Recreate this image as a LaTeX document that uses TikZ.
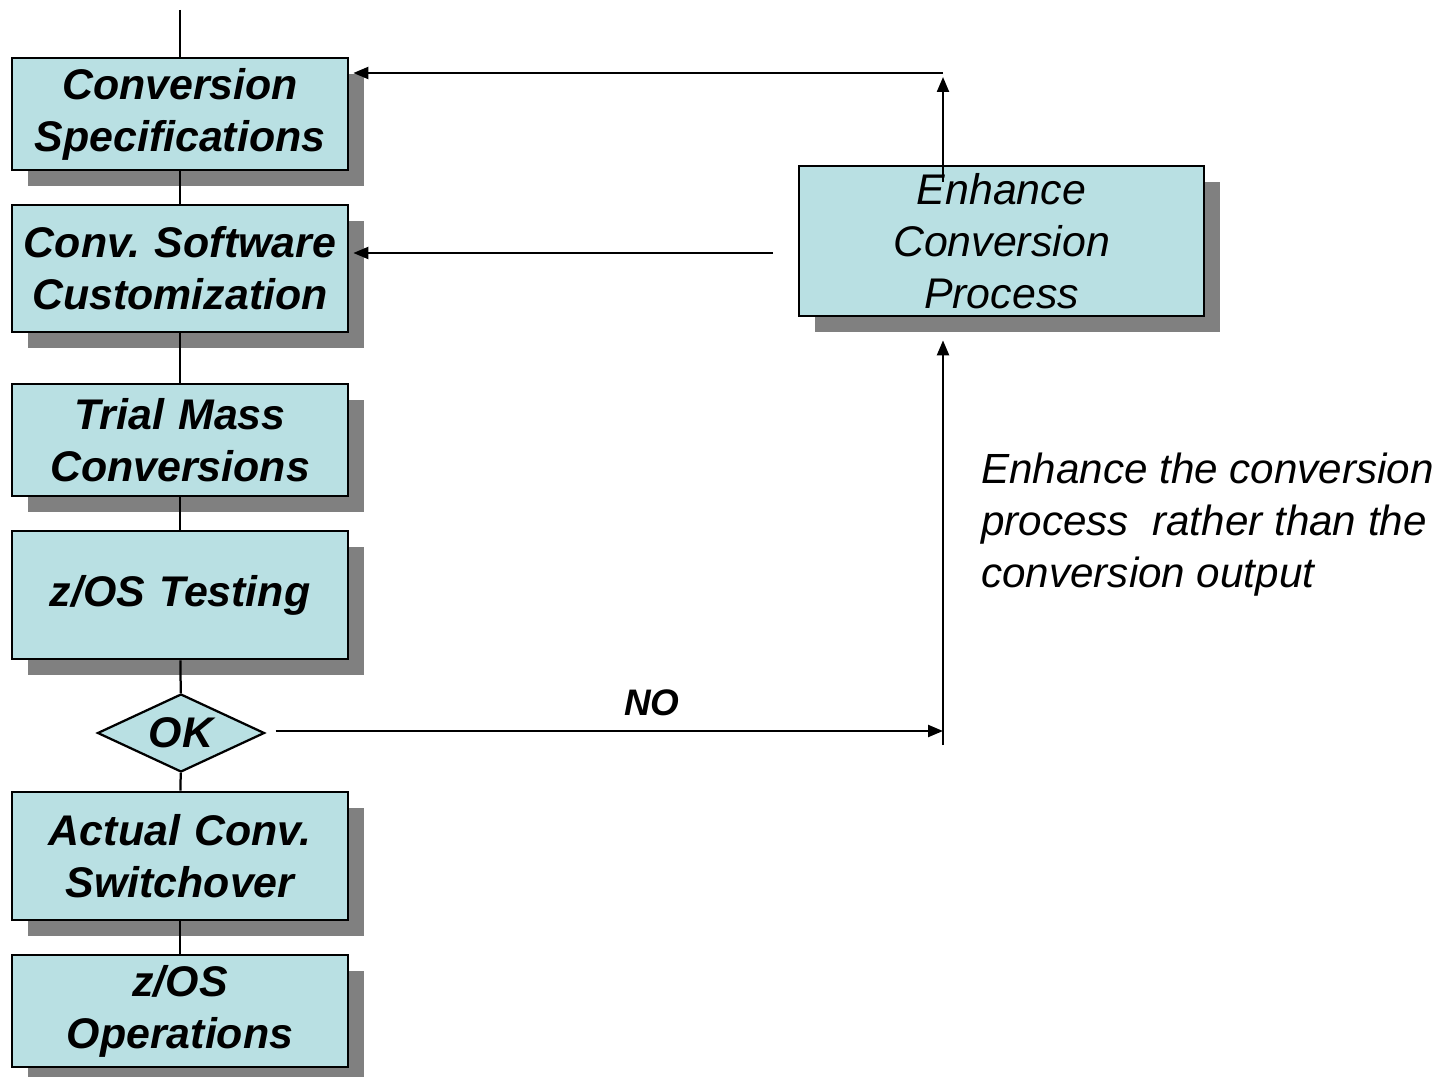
\documentclass[tikz,border=0pt]{standalone}
\usepackage{fontspec}
\setmainfont{Liberation Sans}
\usetikzlibrary{shapes.geometric,arrows.meta,shadows,positioning}
\definecolor{boxfill}{RGB}{185,224,227}
\definecolor{shadowgray}{RGB}{128,128,128}
\begin{document}
\begin{tikzpicture}[
    font=\fontsize{24.4}{29.6}\selectfont,
    stepbox/.style={rectangle, draw, line width=0.055cm, fill=boxfill, minimum width=6.72cm, text width=6.6cm, align=center, inner sep=0pt,
        drop shadow={shadow xshift=0.32cm, shadow yshift=-0.32cm, fill=shadowgray, opacity=1}, font=\fontsize{24.4}{29.6}\selectfont\bfseries\itshape},
    link/.style={line width=0.045cm},
    arrowlink/.style={line width=0.045cm, -{Triangle[length=0.3cm,width=0.24cm]}}
]
    \useasboundingbox (0,0) rectangle (28.92,-21.54);

    % main column
    \node (spec) [stepbox, minimum height=2.24cm] at (3.6,-2.28) {Conversion\\Specifications};
    \node (soft) [stepbox, minimum height=2.54cm] at (3.6,-5.37) {Conv.\ Software\\Customization};
    \node (trial) [stepbox, minimum height=2.24cm] at (3.6,-8.8) {Trial Mass\\Conversions};
    \node (test) [stepbox, minimum height=2.56cm] at (3.6,-11.9) {z/OS Testing};
    \node (ok) [diamond, draw, line width=0.045cm, fill=boxfill, aspect=2.14, minimum width=3.34cm, minimum height=1.56cm, inner sep=0pt, font=\fontsize{24.4}{29.6}\selectfont\bfseries\itshape] at (3.62,-14.66) {OK};
    \node (switch) [stepbox, minimum height=2.56cm] at (3.6,-17.12) {Actual Conv.\\Switchover};
    \node (ops) [stepbox, minimum height=2.24cm] at (3.6,-20.22) {z/OS\\Operations};

    % feedback box
    \node (enh) [stepbox, minimum width=8.1cm, text width=7.8cm, minimum height=3cm, font=\fontsize{24.4}{29.6}\selectfont\itshape] at (20.03,-4.82) {Enhance\\Conversion\\Process};
    \node (note) [anchor=west, align=left, inner sep=0pt, font=\fontsize{24}{29.6}\selectfont\itshape] at (19.62,-10.5) {Enhance the conversion\\process\ \ rather than the\\conversion output};

    \coordinate (start) at (3.6,-0.2);
    \coordinate (up) at (18.86,-1.46);
    \coordinate (mid) at (15.46,-5.06);
    \coordinate (turn) at (18.86,-14.62);

    \draw [link] (start) -- (spec);
    \draw [link] (spec) -- (soft);
    \draw [link] (soft) -- (trial);
    \draw [link] (trial) -- (test);
    \draw [link] (test) -- (ok);
    \draw [link] (ok) -- (switch);
    \draw [link] (switch) -- (ops);

    \draw [arrowlink] ([yshift=-0.34cm]enh.north -| up) -- ([yshift=-0.08cm]up);
    \draw [arrowlink, shorten >=0.08cm] (up) -- (spec.east |- up);
    \draw [arrowlink, shorten >=0.08cm] (mid) -- (soft.east |- mid);
    \draw [arrowlink, shorten <=0.2cm] (ok.east |- turn) -- node[pos=0.57, above=0.16cm, font=\fontsize{21}{25}\selectfont\bfseries\itshape] {NO} (turn);
    \draw [arrowlink, shorten >=0.46cm] ([yshift=-0.28cm]turn) -- (enh.south -| turn);
\end{tikzpicture}
\end{document}
